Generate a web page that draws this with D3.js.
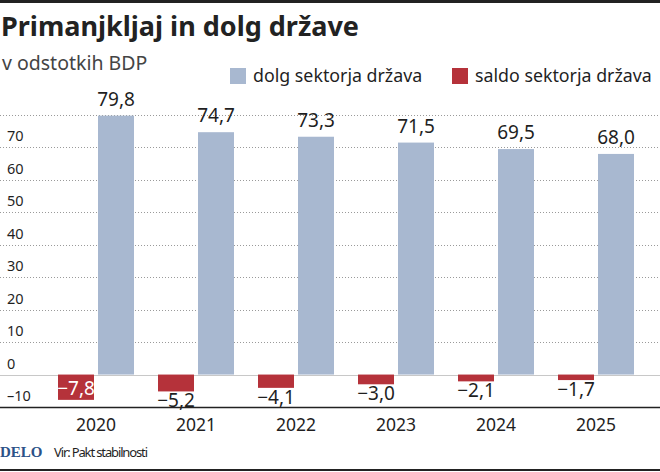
<!DOCTYPE html>
<html>
<head>
<meta charset="utf-8">
<script src="https://cdn.jsdelivr.net/npm/d3@7"></script>
<style>
  body { margin: 0; background: #fff; }
  svg { display: block; font-family: "Noto Sans", sans-serif; }
</style>
</head>
<body>
<div id="chart"></div>
<script>
const years = ["2020", "2021", "2022", "2023", "2024", "2025"];
const dolg = [79.8, 74.7, 73.3, 71.5, 69.5, 68.0];
const saldo = [-7.8, -5.2, -4.1, -3.0, -2.1, -1.7];
const yTicks = [-10, 0, 10, 20, 30, 40, 50, 60, 70];
const gridTicks = [0, 10, 20, 30, 40, 50, 60, 70, 80];
const seriesNames = ["saldo sektorja država", "dolg sektorja država"];

const width = 660;
const height = 472;
const blue = "#a8b8d0";
const red = "#b5323a";
const ink = "#1f1f1f";

const svg = d3.select("#chart")
    .append("svg")
    .attr("width", width)
    .attr("height", height);

const x = d3.scaleBand()
    .domain(years)
    .range([46, 646]);

const x1 = d3.scaleBand()
    .domain(["saldo", "dolg"])
    .range([12, 88])
    .paddingInner(0.1);

const y = d3.scaleLinear()
    .domain([-10, 80])
    .range([407, 115]);

const fmt = v => d3.format(".1f")(v).replace(".", ",").replace("-", "\u2013");

// top and bottom rules
svg.append("rect").attr("x", 0).attr("y", 0).attr("width", width).attr("height", 3).attr("fill", "#222");
svg.append("rect").attr("x", 0).attr("y", 469).attr("width", width).attr("height", 2).attr("fill", "#222");

// dotted grid
svg.append("g")
    .selectAll("line")
    .data(gridTicks)
    .join("line")
        .attr("x1", 0)
        .attr("x2", width)
        .attr("y1", d => Math.round(y(d)) + 0.5)
        .attr("y2", d => Math.round(y(d)) + 0.5)
        .attr("stroke", d => d === 0 ? "#c8c8c8" : "#9a9a9a")
        .attr("stroke-width", 1)
        .attr("stroke-dasharray", d => d === 0 ? null : "1,2");

// y tick labels, sitting above their line
svg.append("g")
    .selectAll("text")
    .data(yTicks)
    .join("text")
        .attr("x", 7)
        .attr("y", d => y(d) - 6)
        .attr("font-size", 14.5)
        .attr("fill", ink)
        .text(d => d < 0 ? "\u2013" + Math.abs(d) : d);

// bars
const groups = svg.append("g")
    .selectAll("g")
    .data(years)
    .join("g")
        .attr("transform", d => `translate(${x(d)},0)`);

groups.append("rect")
    .attr("x", x1("dolg"))
    .attr("y", (d, i) => y(dolg[i]))
    .attr("width", x1.bandwidth())
    .attr("height", (d, i) => y(0) - y(dolg[i]))
    .attr("fill", blue);

groups.append("rect")
    .attr("x", x1("saldo"))
    .attr("y", y(0))
    .attr("width", x1.bandwidth())
    .attr("height", (d, i) => y(saldo[i]) - y(0))
    .attr("fill", red);

groups.append("text")
    .attr("x", x1("dolg") + x1.bandwidth() / 2)
    .attr("y", (d, i) => y(dolg[i]) - 10)
    .attr("text-anchor", "middle")
    .attr("font-size", 19)
    .attr("fill", ink)
    .text((d, i) => fmt(dolg[i]));

groups.append("text")
    .attr("x", x1("saldo") + x1.bandwidth() / 2)
    .attr("y", (d, i) => saldo[i] < -6 ? y(saldo[i]) - 5 : y(saldo[i]) + 16)
    .attr("text-anchor", "middle")
    .attr("font-size", 19)
    .attr("fill", (d, i) => saldo[i] < -6 ? "#fff" : ink)
    .text((d, i) => fmt(saldo[i]));

// x axis line
svg.append("line")
    .attr("x1", 0).attr("x2", width)
    .attr("y1", 407.5).attr("y2", 407.5)
    .attr("stroke", "#222").attr("stroke-width", 1.5);

svg.append("g")
    .selectAll("text")
    .data(years)
    .join("text")
        .attr("x", d => x(d) + x.bandwidth() / 2)
        .attr("y", 431)
        .attr("text-anchor", "middle")
        .attr("font-size", 17.5)
        .attr("fill", ink)
        .text(d => d);

// title
svg.append("text")
    .attr("x", 1).attr("y", 36)
    .attr("font-size", 27)
    .attr("font-weight", "bold")
    .attr("fill", "#222")
    .text("Primanjkljaj in dolg države");

svg.append("text")
    .attr("x", 2).attr("y", 70)
    .attr("font-size", 19.5)
    .attr("fill", "#444")
    .text("v odstotkih BDP");

// legend
const legend = [
    {name: seriesNames[1], color: blue, x: 230},
    {name: seriesNames[0], color: red, x: 452}
];
const lg = svg.append("g")
    .selectAll("g")
    .data(legend)
    .join("g")
        .attr("transform", d => `translate(${d.x},68)`);
lg.append("rect").attr("width", 16).attr("height", 16).attr("fill", d => d.color);
lg.append("text")
    .attr("x", 23).attr("y", 14)
    .attr("font-size", 17.8)
    .attr("fill", ink)
    .text(d => d.name);

// footer
svg.append("text")
    .attr("x", 0).attr("y", 457)
    .attr("font-family", "'Liberation Serif', 'DejaVu Serif', serif")
    .attr("font-weight", "bold")
    .attr("font-size", 15)
    .attr("fill", "#2c5288")
    .text("DELO");

svg.append("text")
    .attr("x", 54).attr("y", 457)
    .attr("font-size", 13)
    .attr("fill", ink)
    .attr("textLength", 94)
    .text("Vir: Pakt stabilnosti");
</script>
</body>
</html>
